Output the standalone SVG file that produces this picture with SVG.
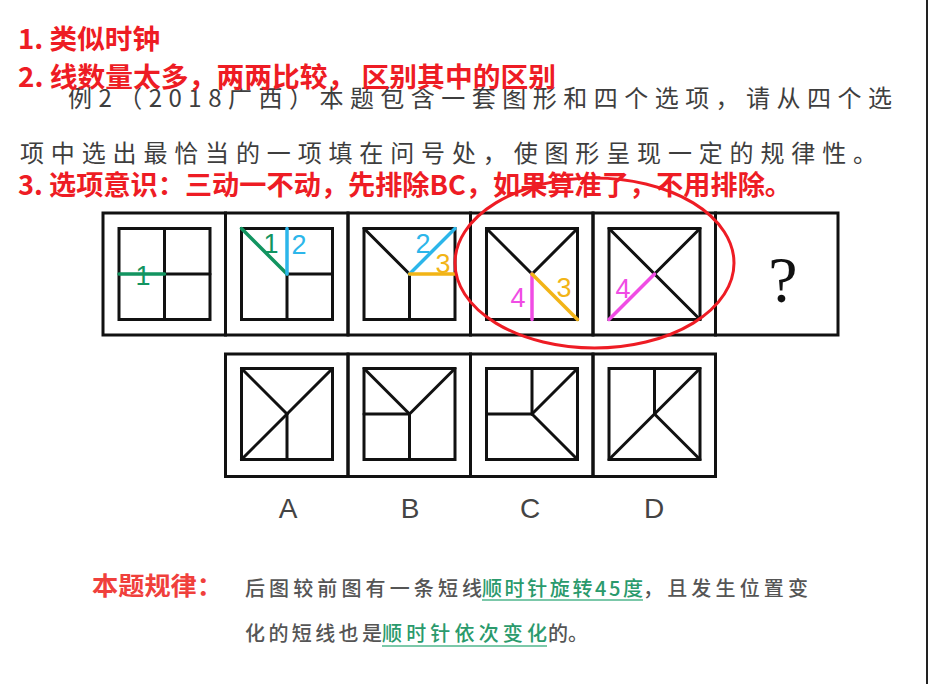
<svg xmlns="http://www.w3.org/2000/svg" width="928" height="684" viewBox="0 0 928 684">
<style>
.bg{fill:#fff}
.cell{fill:none;stroke:#111;stroke-width:3}
.ln{stroke:#111;stroke-width:3;stroke-linecap:round;fill:none}
.g{stroke:#129460;stroke-width:3.5;stroke-linecap:round}
.b{stroke:#2cb6ea;stroke-width:3.5;stroke-linecap:round}
.o{stroke:#f2b416;stroke-width:3.5;stroke-linecap:round}
.m{stroke:#f04ce4;stroke-width:3.5;stroke-linecap:round}
.lab{font-family:"Liberation Sans",Arial,sans-serif;font-size:27px;text-anchor:middle}
.red{font-family:"Noto Sans CJK SC",sans-serif;font-weight:bold;font-size:27px;fill:#ee1c24}
.para{font-family:"Noto Sans CJK SC",sans-serif;font-size:24px;fill:#3e3e3e}
.opt{font-family:"Liberation Sans",Arial,sans-serif;font-size:28px;fill:#444;text-anchor:middle}
.rule{font-family:"Noto Sans CJK SC",sans-serif;font-size:20px;fill:#555;font-weight:500}
.ruleg{fill:#2a9a6c}
.ul{stroke:#4fb68c;stroke-width:1.6}
</style>
<rect class="bg" x="0" y="0" width="928" height="684"/>
<rect x="926" y="0" width="2" height="684" fill="#222"/>

<g id="question-text">
<text class="para" x="68" y="107" textLength="824" lengthAdjust="spacing">例2（2018广西）本题包含一套图形和四个选项，请从四个选</text>
<text class="para" x="20" y="162" textLength="857" lengthAdjust="spacing">项中选出最恰当的一项填在问号处，使图形呈现一定的规律性。</text>
</g>

<g id="notes">
<text class="red" x="18" y="49" textLength="142" lengthAdjust="spacingAndGlyphs">1. 类似时钟</text>
<text class="red" x="18" y="87" textLength="538" lengthAdjust="spacingAndGlyphs">2. 线数量太多，两两比较， 区别其中的区别</text>
<text class="red" x="18" y="195" textLength="774" lengthAdjust="spacingAndGlyphs">3. 选项意识：三动一不动，先排除BC，如果算准了，不用排除。</text>
</g>

<g id="row1">
<g id="fig1">
<rect class="cell" x="103" y="213" width="122.5" height="122"/>
<rect class="cell" x="119" y="228.5" width="91" height="91"/>
<line class="ln" x1="164.5" y1="228.5" x2="164.5" y2="319.5"/>
<line class="ln" x1="164.5" y1="274" x2="210" y2="274"/>
<line class="g" x1="119" y1="274" x2="164.5" y2="274"/>
<text class="lab" x="143" y="285" fill="#129460">1</text>
</g>
<g id="fig2">
<rect class="cell" x="225.5" y="213" width="122.5" height="122"/>
<rect class="cell" x="241.5" y="228.5" width="91" height="91"/>
<line class="ln" x1="287" y1="274" x2="287" y2="319.5"/>
<line class="ln" x1="287" y1="274" x2="332.5" y2="274"/>
<line class="g" x1="241.5" y1="228.5" x2="287" y2="274"/>
<line class="b" x1="287" y1="228.5" x2="287" y2="274"/>
<text class="lab" x="271" y="253" fill="#129460">1</text>
<text class="lab" x="299" y="254" fill="#2cb6ea">2</text>
</g>
<g id="fig3">
<rect class="cell" x="348" y="213" width="122.5" height="122"/>
<rect class="cell" x="364" y="228.5" width="91" height="91"/>
<line class="ln" x1="364" y1="228.5" x2="409.5" y2="274"/>
<line class="ln" x1="409.5" y1="274" x2="409.5" y2="319.5"/>
<line class="b" x1="409.5" y1="274" x2="455" y2="228.5"/>
<line class="o" x1="409.5" y1="274" x2="455" y2="274"/>
<text class="lab" x="423" y="253" fill="#2cb6ea">2</text>
<text class="lab" x="443" y="273" fill="#f2b416">3</text>
</g>
<g id="fig4">
<rect class="cell" x="470.5" y="213" width="122.5" height="122"/>
<rect class="cell" x="486.5" y="228.5" width="91" height="91"/>
<line class="ln" x1="486.5" y1="228.5" x2="532" y2="274"/>
<line class="ln" x1="577.5" y1="228.5" x2="532" y2="274"/>
<line class="m" x1="532" y1="274" x2="532" y2="319.5"/>
<line class="o" x1="532" y1="274" x2="577.5" y2="319.5"/>
<text class="lab" x="518" y="307" fill="#f04ce4">4</text>
<text class="lab" x="564" y="297" fill="#f2b416">3</text>
</g>
<g id="fig5">
<rect class="cell" x="593" y="213" width="122.5" height="122"/>
<rect class="cell" x="609" y="228.5" width="91" height="91"/>
<line class="ln" x1="609" y1="228.5" x2="700" y2="319.5"/>
<line class="ln" x1="700" y1="228.5" x2="654.5" y2="274"/>
<line class="m" x1="654.5" y1="274" x2="609" y2="319.5"/>
<text class="lab" x="623" y="298" fill="#f04ce4">4</text>
</g>
<g id="fig6">
<rect class="cell" x="715.5" y="213" width="122.5" height="122"/>
<text x="783" y="302" font-family="Liberation Serif,serif" font-size="66" text-anchor="middle" fill="#111">?</text>
</g>
</g>

<g id="highlight">
<ellipse cx="594.5" cy="263" rx="139.5" ry="85" fill="none" stroke="#ee1c24" stroke-width="3"/>
</g>

<g id="options">
<g id="optA">
<rect class="cell" x="225.5" y="354" width="122.5" height="122.5"/>
<rect class="cell" x="241.5" y="368.5" width="91" height="91"/>
<line class="ln" x1="241.5" y1="368.5" x2="287" y2="414"/>
<line class="ln" x1="332.5" y1="368.5" x2="241.5" y2="459.5"/>
<line class="ln" x1="287" y1="414" x2="287" y2="459.5"/>
<text class="opt" x="288" y="518">A</text>
</g>
<g id="optB">
<rect class="cell" x="348" y="354" width="122.5" height="122.5"/>
<rect class="cell" x="364" y="368.5" width="91" height="91"/>
<line class="ln" x1="364" y1="368.5" x2="409.5" y2="414"/>
<line class="ln" x1="455" y1="368.5" x2="409.5" y2="414"/>
<line class="ln" x1="364" y1="414" x2="409.5" y2="414"/>
<line class="ln" x1="409.5" y1="414" x2="409.5" y2="459.5"/>
<text class="opt" x="410" y="518">B</text>
</g>
<g id="optC">
<rect class="cell" x="470.5" y="354" width="122.5" height="122.5"/>
<rect class="cell" x="486.5" y="368.5" width="91" height="91"/>
<line class="ln" x1="532" y1="368.5" x2="532" y2="414"/>
<line class="ln" x1="486.5" y1="414" x2="532" y2="414"/>
<line class="ln" x1="532" y1="414" x2="577.5" y2="368.5"/>
<line class="ln" x1="532" y1="414" x2="577.5" y2="459.5"/>
<text class="opt" x="530" y="518">C</text>
</g>
<g id="optD">
<rect class="cell" x="593" y="354" width="122.5" height="122.5"/>
<rect class="cell" x="609" y="368.5" width="91" height="91"/>
<line class="ln" x1="654.5" y1="368.5" x2="654.5" y2="414"/>
<line class="ln" x1="700" y1="368.5" x2="609" y2="459.5"/>
<line class="ln" x1="654.5" y1="414" x2="700" y2="459.5"/>
<text class="opt" x="654" y="518">D</text>
</g>
</g>

<g id="rule">
<text x="92" y="595" font-family="Noto Sans CJK SC,sans-serif" font-weight="bold" font-size="25" fill="#f0403c" textLength="131" lengthAdjust="spacingAndGlyphs">本题规律：</text>
<text class="rule" x="245" y="596" textLength="237" lengthAdjust="spacing">后图较前图有一条短线</text>
<text class="rule ruleg" x="482" y="596" textLength="161" lengthAdjust="spacing">顺时针旋转45度</text>
<text class="rule" x="643" y="596" textLength="165" lengthAdjust="spacing">，且发生位置变</text>
<text class="rule" x="245" y="641" textLength="137" lengthAdjust="spacing">化的短线也是</text>
<text class="rule ruleg" x="382" y="641" textLength="165" lengthAdjust="spacing">顺时针依次变化</text>
<text class="rule" x="548" y="641">的。</text>
<line class="ul" x1="482" y1="600" x2="643" y2="600"/>
<line class="ul" x1="382" y1="646" x2="547" y2="646"/>
</g>
</svg>
